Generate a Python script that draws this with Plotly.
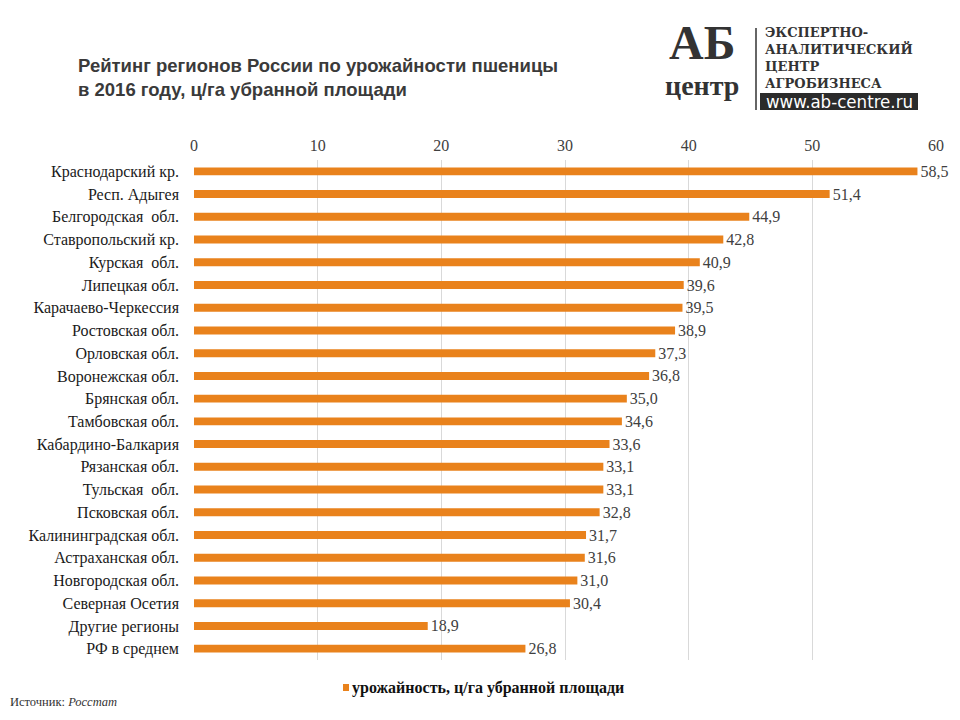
import plotly.graph_objects as go

regions = ["Краснодарский кр.", "Респ. Адыгея", "Белгородская  обл.", "Ставропольский кр.",
           "Курская  обл.", "Липецкая обл.", "Карачаево-Черкессия", "Ростовская обл.",
           "Орловская обл.", "Воронежская обл.", "Брянская обл.", "Тамбовская обл.",
           "Кабардино-Балкария", "Рязанская обл.", "Тульская  обл.", "Псковская обл.",
           "Калининградская обл.", "Астраханская обл.", "Новгородская обл.", "Северная Осетия",
           "Другие регионы", "РФ в среднем"]
values = [58.5, 51.4, 44.9, 42.8, 40.9, 39.6, 39.5, 38.9, 37.3, 36.8, 35.0, 34.6,
          33.6, 33.1, 33.1, 32.8, 31.7, 31.6, 31.0, 30.4, 18.9, 26.8]
tick_vals = [0, 10, 20, 30, 40, 50, 60]
logo_lines = ["ЭКСПЕРТНО-", "АНАЛИТИЧЕСКИЙ", "ЦЕНТР", "АГРОБИЗНЕСА"]

serif = "Liberation Serif"
orange = "#E9821C"

# pixel -> paper helpers (plot area: x 194..936, y 160..660)
def px(x):
    return (x - 194) / 742.0

def py(y):
    return (660 - y) / 500.0

fig = go.Figure()
fig.add_trace(go.Bar(
    y=regions, x=values, orientation="h",
    marker=dict(color=orange, line=dict(width=0)),
    width=0.35,
    text=[f"{v:.1f}".replace(".", ",") for v in values],
    textposition="outside", cliponaxis=False, constraintext="none",
    textfont=dict(family=serif, size=16, color="#404040"),
    name="урожайность, ц/га убранной площади",
    showlegend=False,
))

fig.update_layout(
    width=960, height=720,
    margin=dict(l=194, r=24, t=160, b=60),
    paper_bgcolor="white", plot_bgcolor="white",
    xaxis=dict(side="top", range=[0, 60], tickvals=tick_vals, showgrid=True,
               gridcolor="#D9D9D9", gridwidth=1, zeroline=False,
               tickfont=dict(family=serif, size=16, color="#404040"),
               ticks="", showline=False, ticklabelstandoff=5),
    yaxis=dict(autorange="reversed", tickfont=dict(family=serif, size=16, color="#1a1a1a"),
               ticks="", showgrid=False, showline=False, ticklabelstandoff=14),
    font=dict(family=serif),
)

# Title
fig.add_annotation(xref="paper", yref="paper", x=px(76), y=py(77), xanchor="left", yanchor="middle",
                   text="<b>Рейтинг регионов России по урожайности пшеницы<br>в 2016 году, ц/га убранной площади</b>",
                   showarrow=False, align="left",
                   font=dict(family="Liberation Sans Narrow, Liberation Sans", size=18.5, color="#3a3a3a"))

# Logo
fig.add_annotation(xref="paper", yref="paper", x=px(702), y=py(14), xanchor="center", yanchor="top",
                   text="<b>АБ</b>", showarrow=False,
                   font=dict(family=serif, size=48, color="#333333"))
fig.add_annotation(xref="paper", yref="paper", x=px(702), y=py(68), xanchor="center", yanchor="top",
                   text="<b>центр</b>", showarrow=False,
                   font=dict(family=serif, size=28, color="#333333"))
fig.add_shape(type="line", xref="paper", yref="paper", x0=px(756), x1=px(756), y0=py(110), y1=py(28),
              line=dict(color="#333333", width=1.5))
fig.add_annotation(xref="paper", yref="paper", x=px(763), y=py(58), xanchor="left", yanchor="middle",
                   text="<b>" + "<br>".join(logo_lines) + "</b>", showarrow=False, align="left",
                   font=dict(family="DejaVu Serif", size=13, color="#333333"))
fig.add_shape(type="rect", xref="paper", yref="paper", x0=px(760), x1=px(918), y0=py(110), y1=py(93),
              fillcolor="#2b2b2b", line=dict(width=0))
fig.add_annotation(xref="paper", yref="paper", x=px(764), y=py(102), xanchor="left", yanchor="middle",
                   text="www.ab-centre.ru", showarrow=False,
                   font=dict(family="DejaVu Sans Condensed, DejaVu Sans", size=18.5, color="white"))

# Legend
fig.add_shape(type="rect", xref="paper", yref="paper", x0=px(343), x1=px(349), y0=py(691), y1=py(684),
              fillcolor=orange, line=dict(width=0))
fig.add_annotation(xref="paper", yref="paper", x=px(350), y=py(688), xanchor="left", yanchor="middle",
                   text="<b>урожайность, ц/га убранной площади</b>", showarrow=False,
                   font=dict(family=serif, size=16, color="#111111"))

# Source
fig.add_annotation(xref="paper", yref="paper", x=px(8), y=py(702), xanchor="left", yanchor="middle",
                   text="Источник: <i>Росстат</i>", showarrow=False,
                   font=dict(family=serif, size=12.5, color="#333333"))

fig.write_html("out.html")
